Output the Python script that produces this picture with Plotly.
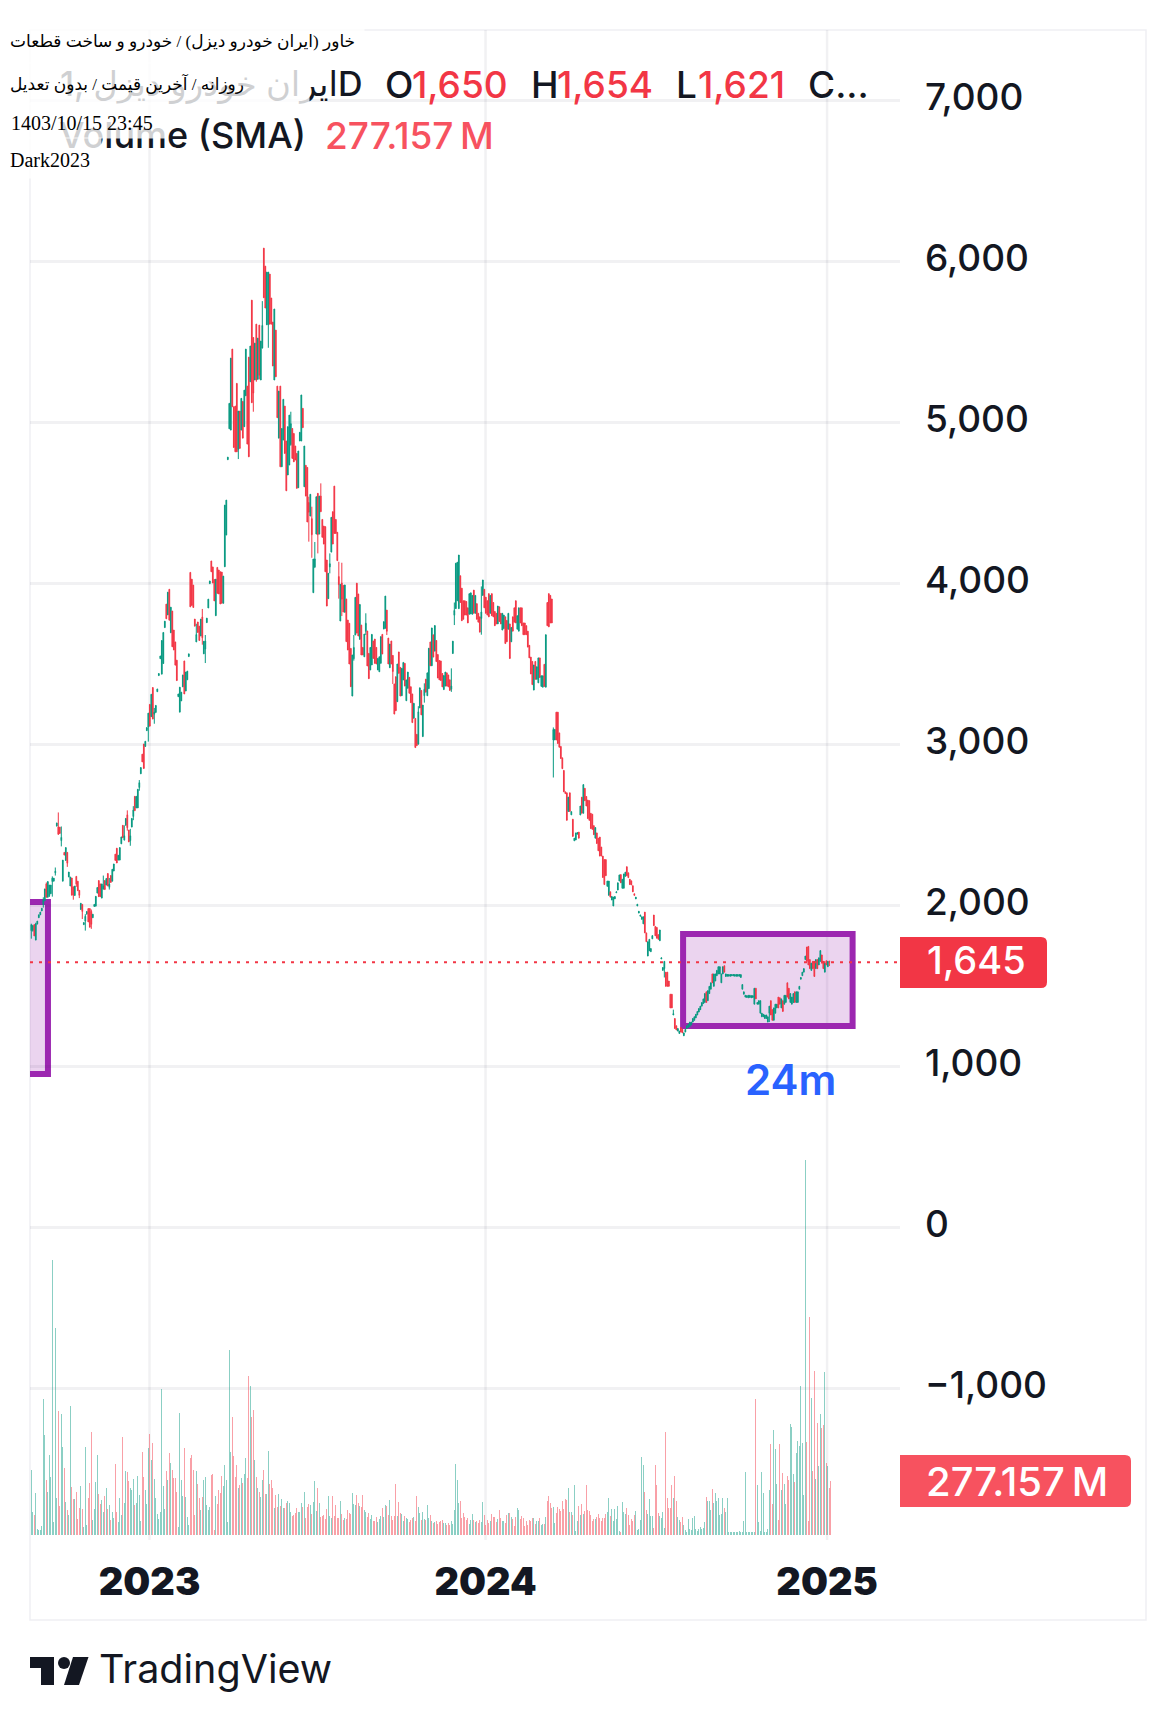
import plotly.graph_objects as go

opens=[1841,1841,1878,1782,1882,1921,1939,1963,2004,2026,
2131,2048,2058,2070,2146,2148,2200,2490,2484,2484,
2400,2148,2327,2277,2327,2174,2118,2168,2113,2059,
2178,2148,2091,1972,2004,1878,1900,1943,1978,1978,
1960,1921,1991,1993,2074,2152,2131,2043,2100,2152,
2124,2196,2110,2183,2148,2211,2316,2353,2279,2279,
2380,2495,2403,2495,2560,2466,2400,2484,2550,2675,
2603,2603,2730,2815,2937,3000,2985,3083,3105,3246,
3170,3351,3185,3196,3325,3425,3530,3434,3500,3723,
3869,3802,3961,3691,3826,3708,3634,3521,3294,3198,
3268,3355,3516,3329,3399,3543,4066,4024,3987,3776,
3634,3758,3732,3671,3789,3560,3590,3754,3845,3996,
4137,4100,4022,3797,4097,4081,4070,4068,3874,4101,
4298,4766,4958,4950,5453,5095,5099,5240,4830,5068,
4950,5128,4971,5163,5223,5403,5250,5757,5525,5261,
5608,5265,5602,5261,5460,6080,5968,5604,5604,5919,
5770,5621,5261,5571,5223,4900,5223,4722,4888,5099,
4882,4671,4733,4860,4960,4929,4851,4805,4592,4882,
4882,5085,4598,4731,4718,4500,4416,4400,3940,4100,
4304,4557,4304,4540,4395,4354,4350,4143,3903,4100,
4192,4443,4602,4395,4315,4040,3764,4000,3985,3818,
3901,3770,3750,3594,3298,3530,3677,3999,3932,3650,
3739,3600,3542,3700,3702,3563,3460,3491,3640,3652,
3600,3460,3449,3501,3681,3714,3719,3832,3658,3474,
3640,3550,3373,3418,3263,3572,3476,3300,3398,3501,
3269,3346,3414,3356,3311,3160,3159,3060,3000,3224,
3333,3046,3300,3403,3300,3344,3634,3486,3678,3577,
3643,3556,3519,3516,3438,3338,3360,3442,3429,3399,
3340,3562,3800,3841,3890,3841,4045,3968,3890,3890,
3885,3846,3806,3808,3806,3956,3812,3872,3812,3790,
3780,3923,3961,3912,3890,3934,3812,3934,3879,3823,
3812,3746,3852,3812,3708,3717,3790,3768,3713,3746,
3635,3790,3846,3890,3713,3701,3846,3846,3752,3752,
3735,3701,3613,3540,3513,3335,3513,3402,3380,3535,
3358,3353,3495,3353,3879,3934,3923,3901,3025,3025,
3198,3198,3069,2985,2914,2836,2703,2697,2581,2697,
2560,2533,2399,2404,2440,2453,2559,2670,2570,2725,
2674,2652,2648,2570,2564,2493,2415,2448,2415,2422,
2360,2304,2282,2282,2116,2060,2082,2031,1994,2038,
2076,2093,2149,2189,2104,2104,2178,2238,2200,2160,
2150,2120,2070,2038,1994,1950,1930,1911,1883,1956,
1827,1683,1716,1710,1790,1938,1867,1861,1816,1778,
1665,1594,1605,1583,1583,1528,1446,1446,1317,1295,
1250,1217,1202,1239,1228,1188,1211,1233,1239,1246,
1255,1273,1284,1299,1317,1335,1350,1372,1388,1395,
1461,1406,1450,1477,1572,1495,1528,1561,1572,1572,
1517,1572,1623,1556,1558,1558,1558,1560,1560,1558,
1558,1558,1558,1550,1477,1446,1428,1426,1424,1426,
1424,1426,1384,1483,1384,1384,1328,1306,1306,1295,
1295,1273,1328,1406,1350,1284,1328,1361,1428,1424,
1361,1406,1384,1395,1517,1483,1395,1384,1395,1461,
1395,1395,1477,1539,1561,1583,1661,1739,1743,1661,
1594,1650,1650,1605,1661,1628,1650,1690,1650,1583,1654,1617,1650]

closes=[1878,1872,1808,1884,1900,1939,1956,1980,2030,2100,
2048,2146,2124,2124,2167,2167,2210,2510,2440,2444,
2420,2279,2310,2357,2260,2205,2174,2061,2061,2118,
2130,2089,2060,2011,1960,1891,1930,1960,1895,1862,
1880,1943,2004,2054,2109,2052,2052,2131,2120,2096,
2165,2118,2130,2140,2222,2255,2277,2261,2309,2357,
2423,2418,2430,2538,2480,2392,2430,2538,2590,2586,
2675,2719,2760,2854,2889,2848,3017,3102,3192,3111,
3309,3155,3198,3240,3342,3438,3547,3643,3693,3763,
3778,3943,3769,3850,3604,3584,3490,3394,3311,3353,
3322,3429,3311,3447,3453,3560,3852,3861,3848,3732,
3680,3693,3643,3776,3660,3638,3640,3782,3900,4013,
4070,4000,3889,4024,3936,3932,3870,3874,4043,4484,
4515,4782,5116,5397,5095,4842,4815,4815,5068,4836,
5147,4900,5198,5453,4863,4784,5472,5120,5180,5490,
5260,5521,5290,5503,5600,5772,5708,5931,5931,5608,
5608,5348,5702,5281,5027,5192,4722,4960,5141,4805,
4573,4971,5043,4990,4774,4753,4764,4588,4820,4936,
5168,4965,4851,4540,4379,4440,4551,4300,4149,4150,
4536,4300,4540,4443,4284,4242,4070,3857,4060,4120,
4408,4242,4308,4308,4139,3990,3992,3900,3820,3988,
3636,3584,3497,3356,3553,3600,3911,3690,3671,3867,
3553,3553,3683,3750,3485,3406,3600,3681,3532,3501,
3497,3532,3542,3667,3559,3760,3919,3700,3497,3621,
3497,3450,3186,3207,3497,3439,3298,3470,3507,3360,
3398,3447,3315,3257,3133,3253,2978,2990,3200,3349,
3181,3242,3340,3322,3442,3595,3486,3721,3540,3736,
3512,3410,3399,3394,3355,3425,3447,3360,3355,3333,
3360,3639,3830,4123,4129,4174,3879,3766,3775,3801,
3801,3752,3934,3939,3923,3812,3923,3775,3757,3695,
3820,4019,3846,3812,3801,3790,3923,3797,3790,3735,
3746,3857,3761,3746,3812,3801,3624,3635,3812,3531,
3724,3701,3757,3752,3797,3846,3752,3735,3679,3679,
3679,3602,3535,3435,3369,3491,3402,3480,3535,3413,
3424,3424,3358,3679,3735,3728,3752,3752,3090,3091,
3025,3003,2980,2910,2847,2703,2692,2526,2670,2581,
2580,2426,2415,2448,2450,2415,2615,2570,2748,2648,
2615,2537,2526,2475,2470,2437,2481,2382,2337,2304,
2304,2171,2127,2182,2149,2149,2049,2053,2049,2053,
2082,2138,2187,2138,2160,2193,2204,2182,2170,2127,
2125,2082,2060,2049,2005,1961,1938,1927,1927,1827,
1772,1772,1787,1730,1810,1872,1809,1794,1787,1845,
1672,1612,1650,1495,1495,1495,1361,1361,1325,1233,
1224,1233,1217,1211,1206,1206,1228,1250,1261,1273,
1273,1295,1306,1321,1339,1357,1372,1394,1417,1450,
1395,1468,1495,1517,1517,1572,1572,1594,1617,1617,
1572,1617,1583,1572,1568,1568,1568,1568,1568,1568,
1568,1568,1568,1568,1506,1461,1439,1437,1439,1439,
1437,1437,1483,1417,1395,1406,1406,1328,1321,1317,
1317,1306,1372,1317,1284,1361,1384,1384,1361,1384,
1417,1339,1439,1439,1428,1417,1450,1428,1450,1395,
1461,1461,1495,1550,1583,1605,1683,1650,1628,1605,
1639,1605,1556,1661,1605,1672,1717,1639,1605,1639,1628,1650,1645]

highs=[1884,1877,1880,1890,1900,1939,1956,1980,2048,2100,
2140,2146,2124,2124,2178,2167,2233,2510,2575,2484,
2488,2279,2327,2357,2327,2205,2174,2168,2113,2118,
2178,2148,2091,2011,2004,1891,1943,1960,1978,1978,
1972,1943,2004,2054,2109,2152,2131,2131,2183,2152,
2165,2196,2168,2183,2222,2255,2316,2353,2309,2357,
2423,2495,2495,2538,2588,2466,2473,2538,2614,2675,
2675,2719,2776,2854,2937,3000,3017,3102,3192,3246,
3309,3351,3224,3240,3342,3438,3547,3643,3693,3763,
3869,3943,3961,3850,3826,3708,3634,3521,3311,3353,
3322,3429,3516,3447,3453,3560,4066,4024,3987,3776,
3747,3758,3732,3776,3839,3638,3677,3782,3900,4013,
4137,4100,4022,4024,4097,4081,4070,4068,4043,4484,
4515,4782,5116,5397,5453,5095,5099,5240,5068,5068,
5147,5128,5198,5453,5223,5403,5472,5757,5525,5490,
5608,5521,5602,5503,5751,6080,5968,5931,5931,5919,
5770,5621,5702,5571,5223,5192,5223,4960,5141,5099,
4882,4971,5043,5064,4960,4929,4851,4805,4820,4936,
5168,5085,4851,4731,4718,4536,4551,4474,4149,4255,
4536,4557,4540,4619,4395,4354,4350,4143,4060,4184,
4408,4443,4602,4395,4315,4132,3992,4126,3985,3988,
3901,3770,3750,3594,3553,3677,3911,3999,3932,3867,
3739,3600,3683,3812,3702,3563,3600,3681,3640,3652,
3600,3532,3542,3667,3681,3760,3919,3832,3658,3621,
3640,3553,3373,3418,3497,3572,3476,3470,3507,3501,
3398,3447,3414,3356,3311,3253,3159,3060,3235,3349,
3333,3242,3377,3403,3442,3595,3634,3721,3678,3736,
3643,3556,3519,3516,3438,3425,3447,3442,3429,3399,
3470,3639,3879,4123,4129,4174,4045,3968,3890,3890,
3885,3846,3934,3939,3923,3956,3923,3872,3812,3790,
3979,4019,3961,3912,3890,3934,3923,3934,3879,3823,
3812,3857,3852,3812,3812,3801,3790,3768,3812,3746,
3724,3790,3846,3890,3797,3846,3846,3846,3752,3752,
3735,3701,3613,3540,3513,3491,3513,3480,3535,3535,
3424,3424,3495,3679,3879,3934,3923,3901,3103,3091,
3198,3198,3069,2985,2914,2836,2703,2697,2670,2697,
2580,2533,2415,2448,2450,2453,2615,2670,2748,2725,
2674,2652,2648,2570,2564,2493,2481,2448,2415,2422,
2360,2304,2282,2282,2149,2149,2082,2053,2049,2053,
2082,2138,2187,2189,2160,2193,2204,2238,2200,2160,
2150,2120,2070,2049,2005,1961,1938,1927,1927,1956,
1827,1772,1787,1730,1810,1938,1867,1861,1816,1845,
1672,1612,1650,1583,1583,1528,1446,1446,1350,1295,
1250,1233,1217,1239,1228,1206,1228,1250,1261,1273,
1273,1295,1306,1321,1339,1357,1372,1394,1417,1450,
1461,1468,1495,1517,1572,1572,1572,1594,1617,1617,
1572,1617,1623,1572,1568,1568,1568,1568,1568,1568,
1568,1568,1568,1568,1506,1461,1439,1437,1439,1439,
1437,1437,1483,1483,1395,1406,1406,1328,1321,1317,
1317,1306,1372,1406,1350,1361,1384,1384,1428,1424,
1417,1406,1439,1439,1517,1483,1450,1428,1450,1461,
1461,1461,1495,1550,1583,1605,1683,1739,1743,1661,
1639,1650,1650,1661,1661,1672,1717,1690,1650,1639,1654,1650,1654]

lows=[1791,1835,1808,1782,1880,1921,1939,1963,1984,2026,
2048,2048,2050,2070,2052,2148,2183,2490,2435,2444,
2364,2148,2310,2277,2237,2174,2118,2061,2033,2059,
2113,2089,2043,1972,1913,1878,1841,1943,1895,1862,
1852,1921,1991,1993,2074,2052,2052,2043,2096,2096,
2124,2118,2096,2140,2148,2211,2277,2261,2279,2279,
2380,2418,2403,2495,2462,2392,2368,2484,2527,2586,
2603,2603,2710,2815,2889,2848,2985,3083,3015,3111,
3170,3155,3126,3196,3325,3425,3530,3434,3500,3723,
3778,3802,3769,3691,3604,3584,3490,3394,3294,3198,
3268,3355,3311,3329,3399,3543,3852,3861,3848,3732,
3634,3693,3643,3671,3617,3560,3503,3754,3845,3996,
4070,4000,3889,3797,3936,3932,3870,3874,3874,4101,
4298,4766,4958,4950,5095,4842,4815,4815,4770,4836,
4950,4900,4971,5163,4863,4784,5250,5120,5064,5261,
5250,5265,5265,5261,5457,5772,5708,5604,5461,5608,
5608,5348,5261,5281,5027,4900,4722,4722,4888,4805,
4573,4671,4733,4853,4774,4753,4764,4588,4592,4882,
4882,4965,4598,4540,4379,4257,4416,4157,3940,4093,
4304,4184,4304,4443,4284,4242,4070,3857,3903,4060,
4192,4242,4308,4308,4139,3903,3764,3795,3820,3818,
3636,3584,3497,3356,3298,3518,3677,3687,3671,3650,
3553,3553,3542,3677,3485,3406,3460,3491,3532,3501,
3497,3460,3449,3501,3559,3714,3719,3677,3497,3474,
3497,3373,3186,3207,3263,3439,3298,3300,3398,3360,
3269,3346,3315,3257,3133,3160,2978,2990,2996,3224,
3181,3046,3257,3322,3300,3344,3486,3486,3540,3577,
3512,3410,3399,3394,3355,3338,3360,3360,3355,3333,
3324,3562,3739,3841,3890,3841,3879,3766,3775,3801,
3801,3752,3806,3808,3806,3812,3812,3775,3757,3695,
3679,3923,3846,3812,3801,3790,3812,3797,3790,3735,
3746,3746,3761,3746,3708,3717,3624,3635,3713,3531,
3635,3701,3757,3752,3713,3701,3752,3735,3679,3679,
3679,3602,3535,3435,3369,3335,3402,3402,3380,3413,
3358,3353,3358,3353,3735,3728,3752,3752,2792,3025,
3025,3003,2980,2910,2847,2703,2692,2526,2581,2581,
2560,2426,2399,2404,2440,2415,2559,2570,2570,2648,
2615,2537,2526,2475,2470,2437,2415,2382,2337,2304,
2304,2171,2127,2182,2116,2060,2049,2031,1994,2038,
2076,2093,2149,2138,2104,2104,2178,2182,2170,2127,
2125,2082,2060,2038,1994,1950,1930,1911,1883,1827,
1772,1683,1716,1710,1790,1872,1809,1794,1787,1778,
1665,1594,1550,1495,1495,1495,1361,1361,1317,1233,
1224,1217,1202,1211,1206,1188,1211,1233,1239,1246,
1255,1273,1284,1299,1317,1335,1350,1372,1388,1395,
1395,1406,1450,1477,1517,1495,1528,1561,1572,1572,
1517,1572,1583,1556,1558,1558,1558,1560,1560,1558,
1558,1558,1558,1550,1477,1446,1428,1426,1424,1426,
1424,1426,1384,1417,1384,1384,1328,1306,1306,1295,
1295,1273,1273,1317,1284,1284,1328,1361,1361,1384,
1361,1339,1384,1395,1428,1417,1395,1384,1395,1395,
1395,1395,1477,1539,1561,1583,1661,1650,1628,1605,
1594,1605,1556,1605,1605,1628,1650,1639,1605,1583,1628,1617,1621]

# volume in millions
volumes=[333,116,103,214,29,26,26,46,696,513,282,221,410,296,1411,67,1062,190,636,149,
621,451,344,169,128,103,662,246,185,185,221,82,139,251,133,41,451,51,190,267,
528,77,133,272,410,210,159,180,118,200,241,133,154,77,118,87,364,118,67,190,
103,503,164,328,323,277,241,231,287,154,164,303,205,72,426,298,231,159,446,518,
385,472,287,190,108,82,118,749,251,133,328,282,421,369,333,292,292,221,41,626,
282,200,446,195,92,51,395,410,333,103,328,262,190,128,195,282,298,154,128,144,
308,313,26,200,159,231,215,303,251,359,282,67,949,426,605,405,298,359,241,257,
292,267,313,395,292,816,764,605,641,385,298,241,221,195,282,333,210,210,431,262,
282,241,139,205,144,210,149,185,139,139,164,174,164,118,97,103,113,139,118,118,
164,144,221,87,144,159,154,108,169,277,123,241,164,92,97,103,82,133,200,97,
87,200,97,154,87,87,174,108,77,87,82,128,113,108,215,159,154,205,164,149,
144,205,128,118,92,113,82,103,72,72,92,67,82,97,139,92,154,149,103,180,
97,77,97,262,97,169,113,108,72,97,87,82,67,77,87,92,72,200,144,113,
77,118,82,77,154,87,103,72,62,67,72,56,67,72,
77,62,62,51,62,51,72,56,128,364,282,164,174,87,113,92,77,87,56,77,
108,77,67,72,62,77,67,169,103,51,77,62,72,108,92,92,67,82,128,87,
72,72,62,103,113,113,92,82,46,92,139,128,82,97,87,46,72,51,77,72,
87,87,56,72,72,87,51,56,56,92,174,200,164,139,144,62,113,144,133,123,
174,133,185,180,241,118,118,103,257,21,72,149,103,159,108,123,257,128,123,103,
72,82,82,92,108,87,72,87,87,108,118,190,97,133,72,133,82,149,21,15,
169,118,108,139,103,51,82,72,103,123,26,31,77,400,359,221,128,108,185,97,
97,36,359,257,113,97,87,118,36,528,190,139,139,257,190,303,174,92,77,67,
92,51,26,15,82,31,26,87,97,31,21,31,41,31,36,67,195,174,174,128,
236,164,215,174,190,103,108,190,139,118,190,15,15,15,15,15,15,15,21,15,
15,72,323,15,15,15,15,15,15,698,257,67,21,323,215,15,15,31,231,467,
159,539,441,262,77,467,231,318,262,159,303,282,569,554,313,272,421,482,457,764,
472,205,1924,477,72,1118,703,328,841,287,575,354,621,549,564,836,369,354,241,277]

year_pos=[78.8,302.8,530.5]
year_labels=["2023","2024","2025"]
price_ticks=[7000,6000,5000,4000,3000,2000,1000,0,-1000]
last_close=1645
last_volume="277.157\u2009M"

# rectangles drawn on the chart, in bar number and price
box_left=[-12,11.1,2019,950]
box_right=[434.5,547.5,1820,1248]

GREEN="#089981"
RED="#F23645"
DARK="#131722"
GRID="rgba(50,50,70,0.065)"
FONT="Inter, Noto Sans, DejaVu Sans"
SERIF="Liberation Serif, DejaVu Sans"

# plot area is x 30..900, y 30..1540 on the page
def px(x):
    return (x-30)/870
def py(y):
    return (1540-y)/1510

x_vals=list(range(len(closes)))
vol_x=list(range(len(volumes)))
vol_colors=[]
for i in vol_x:
    j=min(i,len(closes)-1)
    if closes[j]>=opens[j]:
        vol_colors.append("rgba(8,153,129,0.47)")
    else:
        vol_colors.append("rgba(242,54,69,0.47)")

fig=go.Figure()
fig.add_trace(go.Bar(x=vol_x,y=volumes,width=0.62,marker=dict(color=vol_colors,line=dict(width=0)),yaxis="y2",showlegend=False))
fig.add_trace(go.Candlestick(x=x_vals,open=opens,high=highs,low=lows,close=closes,whiskerwidth=0,
    increasing=dict(line=dict(color=GREEN,width=1),fillcolor=GREEN),
    decreasing=dict(line=dict(color=RED,width=1),fillcolor=RED),showlegend=False))

shapes=[]
# outer frame
shapes.append(dict(type="rect",xref="paper",yref="paper",x0=px(30),x1=px(1146),y0=py(30),y1=py(1620),line=dict(color="#eff0f4",width=1.5),layer="below"))
# year grid lines
for v in year_pos:
    shapes.append(dict(type="line",xref="x",yref="paper",x0=v,x1=v,y0=0,y1=1,line=dict(color=GRID,width=2.5),layer="below"))
# purple boxes
for b in [box_left,box_right]:
    shapes.append(dict(type="rect",xref="x",yref="y",x0=b[0],x1=b[1],y0=b[2],y1=b[3],
        fillcolor="rgba(156,39,176,0.2)",line=dict(color="#9C27B0",width=6),layer="below"))
# last price line
shapes.append(dict(type="line",xref="paper",yref="y",x0=0,x1=1,y0=last_close,y1=last_close,
    line=dict(color=RED,width=2,dash="3px,6px"),layer="above"))

def tag(x0,x1,y0,y1,color):
    r=6
    d=f"M {px(x0)} {py(y0)} L {px(x1-r)} {py(y0)} Q {px(x1)} {py(y0)} {px(x1)} {py(y0+r)} L {px(x1)} {py(y1-r)} Q {px(x1)} {py(y1)} {px(x1-r)} {py(y1)} L {px(x0)} {py(y1)} Z"
    return dict(type="path",xref="paper",yref="paper",path=d,fillcolor=color,line=dict(width=0),layer="above")
shapes.append(tag(900,1047,937,988,RED))
shapes.append(tag(900,1131,1455,1507,"#F7525F"))

# TradingView logo
def poly(points):
    d="M "+" L ".join(f"{px(a)} {py(b)}" for a,b in points)+" Z"
    return dict(type="path",xref="paper",yref="paper",path=d,fillcolor=DARK,line=dict(width=0),layer="above")
shapes.append(poly([(30,1657),(54,1657),(54,1685),(41,1685),(41,1668),(30,1668)]))
shapes.append(dict(type="circle",xref="paper",yref="paper",x0=px(58),x1=px(70),y0=py(1657),y1=py(1669),fillcolor=DARK,line=dict(width=0),layer="above"))
shapes.append(poly([(73,1657),(88.5,1657),(79,1685),(64,1685)]))

ann=[]
def label(text,x,y,size,color=DARK,weight=500,family=FONT,anchor="left"):
    ann.append(dict(text=text,xref="paper",yref="paper",x=px(x),y=py(y),xanchor=anchor,yanchor="middle",showarrow=False,
        font=dict(family=family,size=size,color=color,weight=weight)))

# legend rows, partly covered by the pale boxes added after them
label("1, ایران خودرو دیزلD",365,84,34,anchor="right")
label("O",383,84,37)
label("1,650",410,84,37,RED)
label("H",529,84,37)
label("1,654",555,84,37,RED)
label("L",674,84,37)
label("1,621",696,84,37,RED)
label("C...",806,84,37)
label("Volume (SMA)",57,135,36)
label(last_volume,323,135,37,"#F7525F")

for x1,y0,y1 in [(363,0,62),(308,62,103),(164,103,137),(100,137,177)]:
    ann.append(dict(text="&nbsp;",xref="paper",yref="paper",x=px(0),y=py(y0),xanchor="left",yanchor="top",showarrow=False,
        width=x1,height=y1-y0,borderpad=0,bgcolor="rgba(255,255,255,0.8)",font=dict(size=10)))

label("خاور (ایران خودرو دیزل) / خودرو و ساخت قطعات",8,42,17,"#000000",400,SERIF)
label("روزانه / آخرین قیمت / بدون تعدیل",8,83,17,"#000000",400,SERIF)
label("1403/10/15 23:45",9,123,20,"#000000",400,SERIF)
label("Dark2023",8,160,20,"#000000",400,SERIF)

label("24m",743,1079,42,"#2962FF",600)
label("1,645",925,960,38,"#FFFFFF")
label(last_volume,924,1481,40,"#FFFFFF")
label("TradingView",97,1669,39.5,DARK,400)

fig.update_layout(width=1176,height=1725,margin=dict(l=30,r=276,t=30,b=185),
    paper_bgcolor="white",plot_bgcolor="white",showlegend=False,bargap=0,shapes=shapes,annotations=ann,
    xaxis=dict(range=[-0.87,579.1],rangeslider=dict(visible=False),tickmode="array",tickvals=year_pos,ticktext=year_labels,
        showgrid=False,zeroline=False,showline=False,ticks="",ticklabelstandoff=16,
        tickfont=dict(family=FONT,size=38,color=DARK,weight=900)),
    yaxis=dict(range=[-1944,7435],side="right",tickmode="array",tickvals=price_ticks,tickformat=",",
        showgrid=True,gridcolor=GRID,gridwidth=2.5,zeroline=False,showline=False,ticks="",ticklabelstandoff=24,ticklabelshift=-3,
        tickfont=dict(family=FONT,size=37,color=DARK,weight=500)),
    yaxis2=dict(range=[-25.65,7721],overlaying="y",side="right",visible=False,showgrid=False))

fig.write_html("out.html",config={"displayModeBar":False},post_script="document.body.style.margin='0';")
